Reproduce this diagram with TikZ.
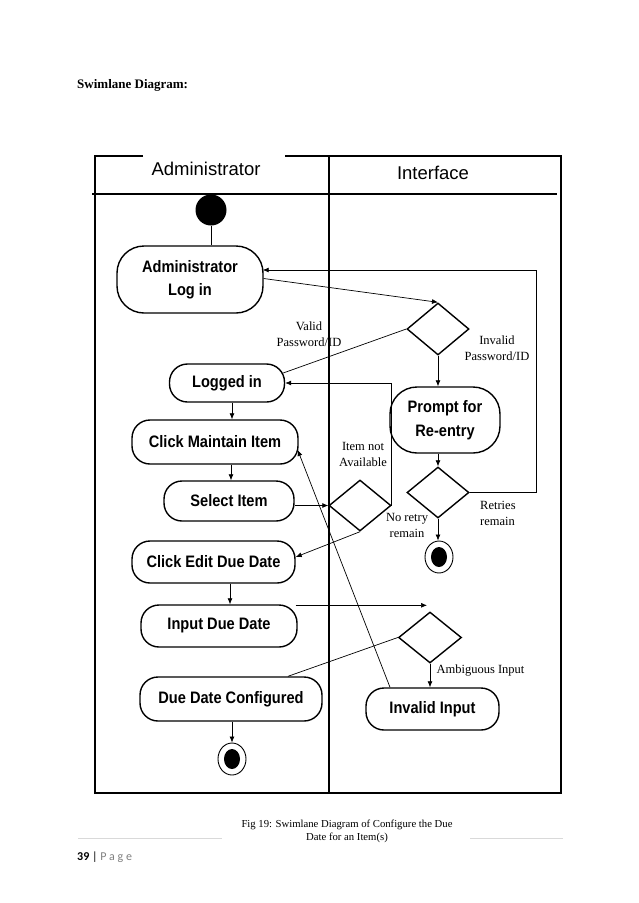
\documentclass[tikz,border=0pt]{standalone}
\usepackage{fontspec}
\setmainfont{Liberation Serif}
\newfontfamily\lsans{Liberation Sans}
\newfontfamily\lsansN{Liberation Sans}[FakeStretch=0.88]
\newfontfamily\carlito{Carlito}
\usetikzlibrary{shapes.geometric,arrows.meta,calc}
\begin{document}
\begin{tikzpicture}[x=1pt,y=-1pt,
  frame/.style={line width=1.1pt},
  act/.style={draw,line width=1.4pt,rounded corners=18pt,inner sep=0pt,align=center,
    font=\lsansN\bfseries\fontsize{16.6}{23.5}\selectfont},
  tallact/.style={act,rounded corners=27pt},
  dec/.style={draw,diamond,line width=1.4pt,inner sep=0pt,minimum width=62pt,minimum height=52pt},
  conn/.style={line width=0.7pt},
  arr/.style={conn,-{Latex[length=6pt,width=5pt]}},
  lbl/.style={font=\fontsize{12.5}{16}\selectfont,align=center,inner sep=0pt},
  lane/.style={font=\lsans\fontsize{18.5}{22}\selectfont,inner sep=0pt},
  finalst/.style={draw,ellipse,line width=0.9pt,minimum width=28pt,minimum height=32pt,inner sep=0pt}
]
\fill[white] (0,0) rectangle (638,903);
\useasboundingbox (0,0) rectangle (638,903);

% title
\node[anchor=west,inner sep=0pt,font=\bfseries\fontsize{13}{15}\selectfont] (title) at (77,85) {Swimlane Diagram:};

% frame and lanes
\draw[frame] (143,156) -- (95,156) -- (95,793) -- (561,793) -- (561,156) -- (285,156);
\draw[frame] (329,156) -- (329,793);
\draw[frame] (92,194) -- (557,194);
\node[lane] (hadmin) at (206,169) {Administrator};
\node[lane] (hint) at (433,173) {Interface};

% nodes
\node[circle,fill,minimum size=31pt,inner sep=0pt] (start) at (211,210) {};
\node[tallact,minimum width=146pt,minimum height=67pt] (login) at (190,279.5) {Administrator\\Log in};
\node[dec] (d1) at (438,329) {};
\node[act,minimum width=115pt,minimum height=38pt] (logged) at (227,383) {Logged in};
\node[tallact,minimum width=110pt,minimum height=66pt] (prompt) at (445,420) {Prompt for\\Re-entry};
\node[act,minimum width=166pt,minimum height=44pt] (maint) at (215,442) {Click Maintain Item};
\node[dec,minimum height=51pt] (d2) at (438,492.5) {};
\node[act,minimum width=130pt,minimum height=40pt] (select) at (229,501) {Select Item};
\node[dec,minimum height=51pt] (d3) at (360,505.5) {};
\node[finalst] (end2) at (439,557) {};
\fill (end2.center) ellipse [x radius=8pt,y radius=10pt];
\node[act,minimum width=163pt,minimum height=42pt] (edit) at (213.5,562) {Click Edit Due Date};
\node[act,minimum width=156pt,minimum height=42pt] (input) at (219,626) {Input Due Date};
\node[dec,minimum width=63pt,minimum height=51pt] (d4) at (430,637.5) {};
\node[act,minimum width=182pt,minimum height=44pt] (config) at (231,699) {Due Date Configured};
\node[act,minimum width=133pt,minimum height=42pt] (invalid) at (432.5,709) {Invalid Input};
\node[finalst] (end1) at (232,759) {};
\fill (end1.center) ellipse [x radius=8pt,y radius=10pt];

% connectors
\draw[conn] (start.south) -- (start.south |- login.north);
\draw[arr] ([yshift=1pt]login.east) -- (d1.north);
\draw[conn] (d1.west) -- ([yshift=10pt,xshift=-2pt]logged.east);
\draw[arr] (d1.south) -- (d1.south |- prompt.north);
\draw[arr] (prompt.south -| d2.north) -- (d2.north);
\coordinate (r1) at (536,270);
\draw[arr] (d2.east) -| (r1) -- ([xshift=-1pt]r1 -| login.east);
\draw[arr] (d2.south) -- (d2.south |- end2.north);
\draw[arr] (select.east |- d3.west) -- (d3.west);
\draw[arr] (d3.east) -- (d3.east |- logged.east) -- (logged.east);
\draw[arr] (d3.south) -- ([yshift=5pt]edit.east);
\draw[arr] ([xshift=5pt]logged.south) -- ([xshift=5pt]logged.south |- maint.north);
\draw[arr] ([xshift=2pt]select.north |- maint.south) -- ([xshift=2pt]select.north);
\draw[arr] ([xshift=16.5pt]edit.south) -- ([xshift=16.5pt]edit.south |- input.north);
\draw[arr] ([xshift=-2pt,yshift=-1pt]input.north east) -- ([xshift=-3pt,yshift=6pt]d4.north);
\draw[conn] (d4.west) -- ([xshift=57pt]config.north);
\draw[arr] (d4.south) -- (d4.south |- invalid.north);
\draw[arr] ([xshift=-42.5pt]invalid.north) -- ([yshift=-8pt,xshift=-1pt]maint.east);
\draw[arr] (config.south -| end1.north) -- (end1.north);

% labels
\node[lbl] (lvalid) at (309,334.5) {Valid\\Password/ID};
\node[lbl] (linvalid) at (497,348.5) {Invalid\\Password/ID};
\node[lbl] (litem) at (363,454) {Item not\\Available};
\node[lbl,align=left,anchor=west] (lretry) at (480,513.5) {Retries\\remain};
\node[lbl] (lnoretry) at (407,525) {No retry\\remain};
\node[lbl] (lamb) at (480.5,671) {Ambiguous Input};

% caption and footer
\node[align=center,inner sep=0pt,font=\fontsize{10.7}{13}\selectfont] (cap) at (347,831.5) {Fig 19: Swimlane Diagram of Configure the Due\\Date for an Item(s)};
\draw[black!15,line width=0.6pt] (78,838) -- (222,838);
\draw[black!15,line width=0.6pt] (470,838) -- (563,838);
\node[anchor=west,inner sep=0pt,font=\carlito\fontsize{12}{14}\selectfont] (page) at (77,857) {\textbf{39} | \textcolor{black!50}{P a g e}};
\end{tikzpicture}
\end{document}
